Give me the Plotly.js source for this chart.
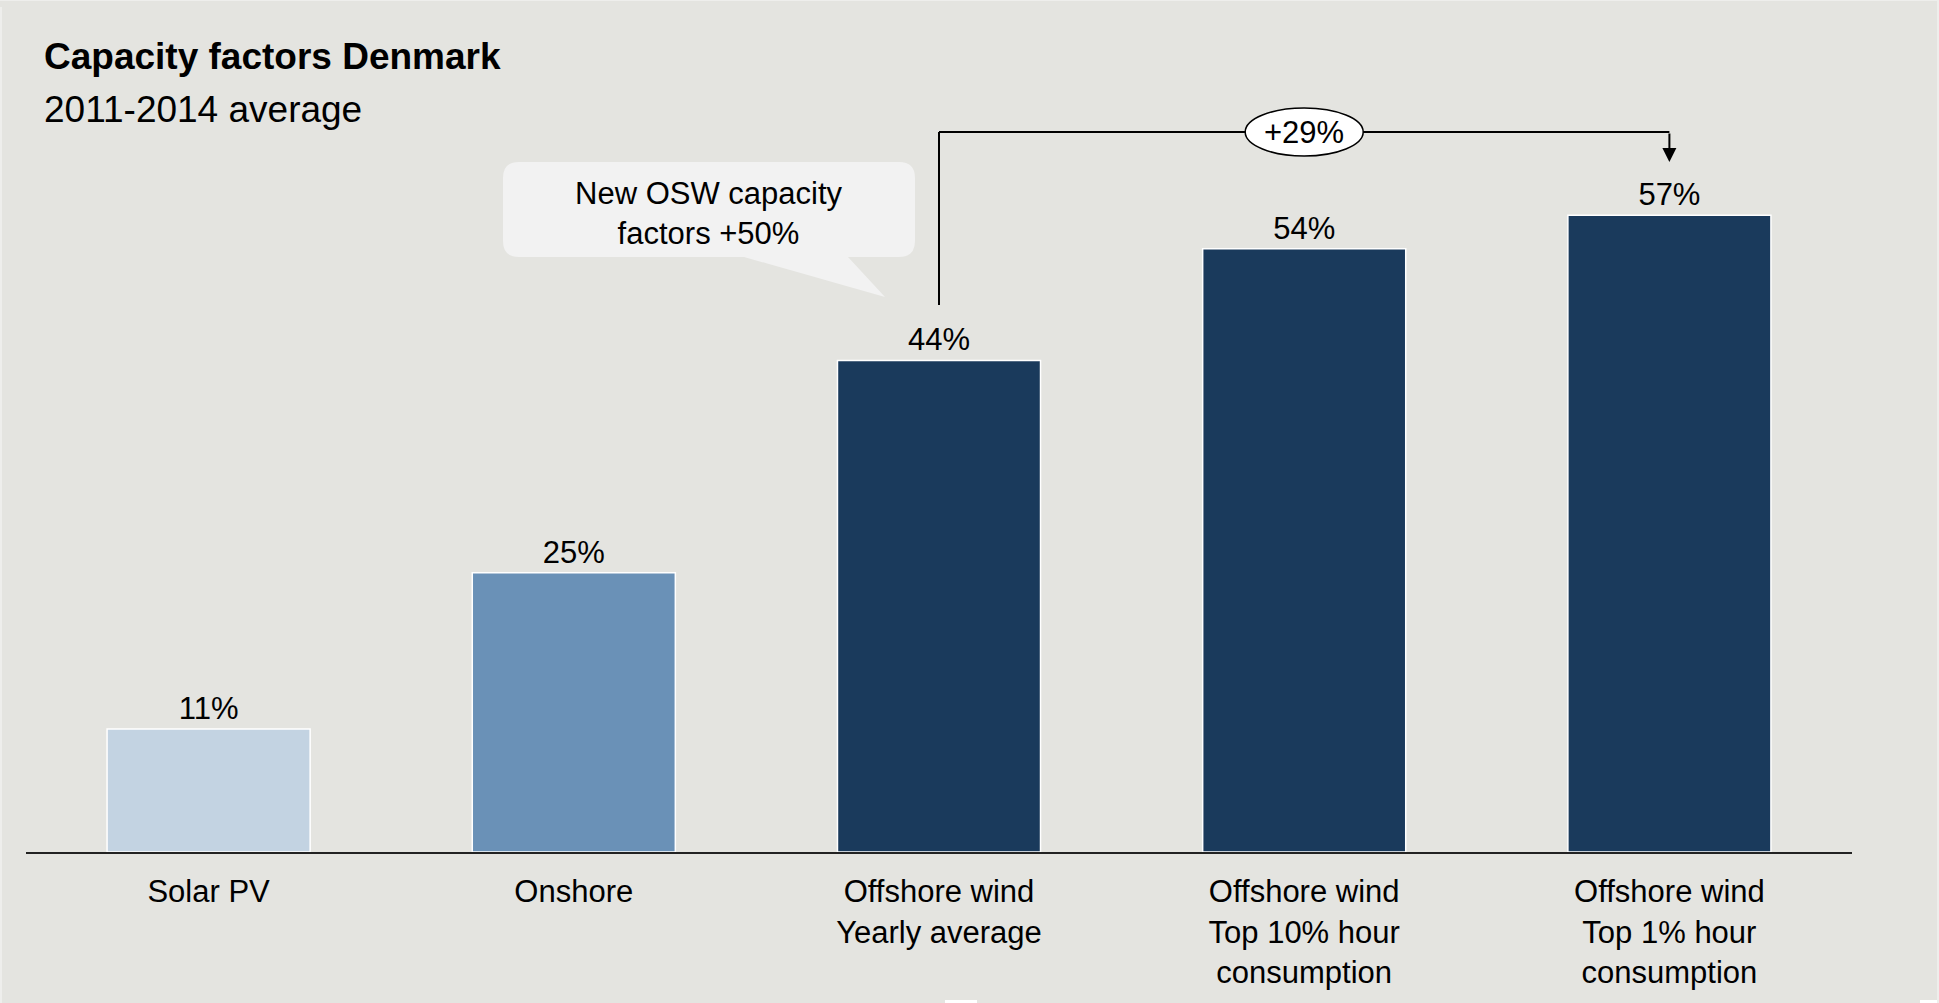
<!DOCTYPE html>
<html>
<head>
<meta charset="utf-8">
<script src="https://cdn.plot.ly/plotly-3.0.1.min.js"></script>
<style>
  html, body { margin: 0; padding: 0; background: #e4e4e0; }
  #chart { width: 1939px; height: 1003px; }
</style>
</head>
<body>
<div id="chart"></div>
<script>
// ---- data ----
const categories = [
  "Solar PV",
  "Onshore",
  "Offshore wind<br>Yearly average",
  "Offshore wind<br>Top 10% hour<br>consumption",
  "Offshore wind<br>Top 1% hour<br>consumption"
];
const capacityFactor = [11, 25, 44, 54, 57];
const barColors = ["#c3d3e2", "#6a91b7", "#1a3a5c", "#1a3a5c", "#1a3a5c"];
const titleText = "Capacity factors Denmark";
const subtitleText = "2011-2014 average";
const calloutText = "New OSW capacity<br>factors +50%";
const deltaText = "+29%";

// ---- layout geometry ----
const W = 1939, H = 1003;
const ML = 26, MR = 87, MT = 70, MB = 151;
const PW = W - ML - MR, PH = H - MT - MB;
const YMAX = 70;
const FONT = '"Liberation Sans", Arial, Helvetica, sans-serif';
const px = X => (X - ML) / PW;          // pixel -> paper x
const py = Y => (H - MB - Y) / PH;      // pixel -> paper y
const yv = Y => (H - MB - Y) / PH * YMAX; // pixel -> data y

// callout bubble path (paper coords)
function calloutPath() {
  const x0 = 503, x1 = 915, y0 = 162, y1 = 257, r = 16;
  const tA = 848, tB = 744, tipX = 885, tipY = 297;
  const P = (X, Y) => px(X).toFixed(5) + "," + py(Y).toFixed(5);
  return "M" + P(x0 + r, y0) +
    " L" + P(x1 - r, y0) +
    " Q" + P(x1, y0) + " " + P(x1, y0 + r) +
    " L" + P(x1, y1 - r) +
    " Q" + P(x1, y1) + " " + P(x1 - r, y1) +
    " L" + P(tA, y1) +
    " L" + P(tipX, tipY) +
    " L" + P(tB, y1) +
    " L" + P(x0 + r, y1) +
    " Q" + P(x0, y1) + " " + P(x0, y1 - r) +
    " L" + P(x0, y0 + r) +
    " Q" + P(x0, y0) + " " + P(x0 + r, y0) + " Z";
}

const catW = PW / categories.length; // px per category
const lineTop = yv(132);
const lineBottom = yv(305);
const arrowTip = yv(162);

const traces = [{
  type: "bar",
  x: categories,
  y: capacityFactor,
  marker: { color: barColors, line: { color: "#ffffff", width: 1.5 } },
  text: capacityFactor.map(v => v + "%"),
  textposition: "outside",
  textfont: { family: FONT, size: 31, color: "#000000" },
  cliponaxis: false,
  hoverinfo: "skip"
}];

const edge = (X0, X1, Y0, Y1, c) => ({ type: "rect", xref: "paper", yref: "paper",
  x0: px(X0), x1: px(X1), y0: py(Y1), y1: py(Y0), fillcolor: c, line: { width: 0 } });

const layout = {
  width: W, height: H,
  paper_bgcolor: "#e4e4e0",
  plot_bgcolor: "#e4e4e0",
  margin: { l: ML, r: MR, t: MT, b: MB, pad: 0 },
  showlegend: false,
  bargap: 0.444,
  font: { family: FONT, size: 31, color: "#000000" },
  xaxis: {
    type: "category",
    showgrid: false, zeroline: false,
    showline: true, linecolor: "#222222", linewidth: 2,
    ticks: "", ticklabelstandoff: 11,
    tickfont: { family: FONT, size: 31, color: "#000000" },
    fixedrange: true
  },
  yaxis: {
    range: [0, YMAX], visible: false, showgrid: false, zeroline: false, fixedrange: true
  },
  shapes: [
    { type: "path", xref: "paper", yref: "paper", path: calloutPath(),
      fillcolor: "#f2f2f2", line: { width: 0 }, layer: "above" },
    { type: "line", xref: "x", yref: "y", x0: 2, x1: 2, y0: lineBottom, y1: lineTop,
      line: { color: "#000000", width: 2 } },
    { type: "line", xref: "x", yref: "y", x0: 2, x1: 4, y0: lineTop, y1: lineTop,
      line: { color: "#000000", width: 2 } },
    { type: "circle", xref: "x", yref: "y",
      x0: 3 - 59 / catW, x1: 3 + 59 / catW,
      y0: yv(156), y1: yv(108),
      fillcolor: "#ffffff", line: { color: "#000000", width: 1.5 } },
    edge(945, 977, 1000, 1003, "#ffffff"),
    edge(1920, 1939, 1000, 1003, "#ffffff"),
    edge(0, 2, 7, 1003, "#eeeeec"),
    edge(0, 1939, 0, 1, "#eeeeec"),
    edge(1937, 1939, 0, 1003, "#eeeeec")
  ],
  annotations: [
    { xref: "paper", yref: "paper", x: px(42), y: py(56), xanchor: "left", yanchor: "middle",
      text: "<b>" + titleText + "</b>", showarrow: false,
      font: { family: FONT, size: 37, color: "#000000" } },
    { xref: "paper", yref: "paper", x: px(42), y: py(109), xanchor: "left", yanchor: "middle",
      text: subtitleText, showarrow: false,
      font: { family: FONT, size: 37, color: "#000000" } },
    { xref: "paper", yref: "paper", x: px(709), y: py(214), xanchor: "center", yanchor: "middle",
      text: calloutText, showarrow: false,
      font: { family: FONT, size: 31, color: "#000000" } },
    { xref: "x", yref: "y", x: 3, y: yv(132), xanchor: "center", yanchor: "middle",
      text: deltaText, showarrow: false,
      font: { family: FONT, size: 31, color: "#000000" } },
    { xref: "x", yref: "y", x: 4, y: arrowTip, axref: "x", ayref: "y", ax: 4, ay: lineTop,
      text: "", showarrow: true, arrowhead: 2, arrowsize: 1.4, arrowwidth: 2,
      arrowcolor: "#000000", standoff: 0 }
  ]
};

Plotly.newPlot("chart", traces, layout, { displayModeBar: false, staticPlot: true });
</script>
</body>
</html>
